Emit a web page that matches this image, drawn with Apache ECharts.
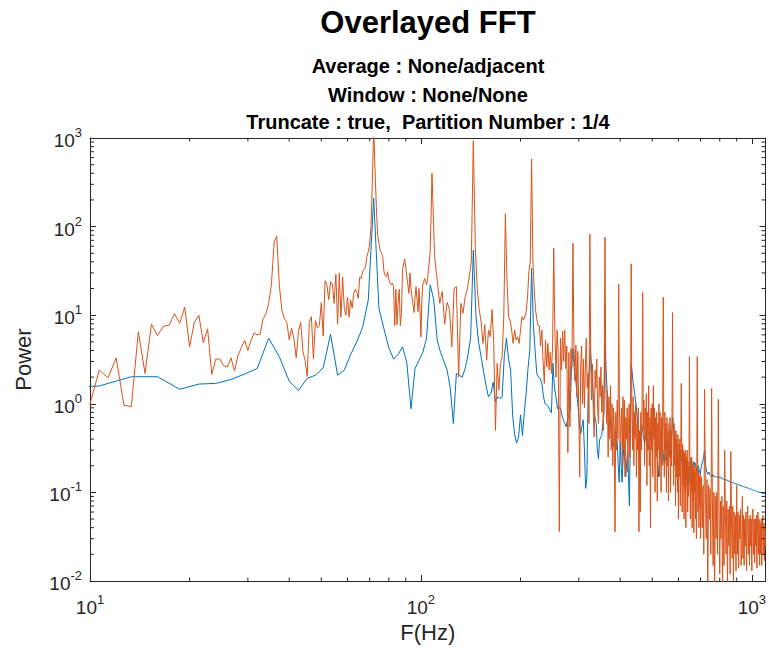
<!DOCTYPE html>
<html><head><meta charset="utf-8">
<script src="https://cdn.jsdelivr.net/npm/echarts@6/dist/echarts.min.js"></script>
<style>html,body{margin:0;padding:0;background:#fff}#c{width:769px;height:656px}</style>
</head><body><div id="c"></div>
<script>
const titleText = 'Overlayed FFT';
const subtitleLines = ['Average : None/adjacent', 'Window : None/None', 'Truncate : true,  Partition Number : 1/4'];
const xAxisName = 'F(Hz)';
const yAxisName = 'Power';
const xMin = 10, xMax = 1100, yMin = 0.01, yMax = 1000;

// Series 1 (blue): bins of 8/3 Hz
const blueLowStartHz = 8, blueLowStepHz = 8 / 3;
const blueLow = [
1.5,1.59,2.02,2.02,1.46,1.67,1.70,1.88,2.17,2.5,
5.5,3.4,1.8,1.42,1.94,2.1,2.55,6.1,2.1,2.4,
3.6,5.0,7.3,14.8,209,12,7.0,4.3,3.2,3.6,
4.4,2.9,0.88,2.5,3.1,3.8,5.5,22,15,5.2,
3.8,3.0,2.4,1.5,0.6,2.2,2.1,2.0,2.5,3.5,
5.5,54,10,5,3.4,2.3,1.6,1.2,1.3,1.75,
1.06,1.2,1.15,1.2,3.5,5.5,3.2,2.4,0.75,0.45,
0.36,0.42,0.75,0.44,0.8,1.31,2.5,4.0,34,7.9,
4.0,2.2,2.0,1.94,1.7,1.2,1.0,0.97,0.93,0.85,
0.79,2.86,1.5,1.2,0.88,0.9,0.9,0.75,0.66,0.6,
0.55,0.66,0.75,0.85,2.86,4.2,2.4,2.0,1.31,0.9,
0.6,0.46,0.55,0.66,0.3,0.111,0.145,1.2,2.4,4.2,
2.4,1.5,0.93,0.7,0.6,0.3,0.24,0.39,0.42,0.44,
0.6,0.79,4.8,2.5,1.43,0.85,0.75,0.66,0.5,0.37,
0.33,0.4,0.5,0.45,0.37,0.2,0.13,0.36];
// Series 1 (blue), read at every second bin above 400 Hz
const blueHighStartHz = 1216 / 3, blueHighStepHz = 16 / 3;
const blueHigh = [
0.13,0.36,0.15,0.3,0.07,2.86,1.8,1.3,0.9,0.5,
0.33,0.6,0.45,0.36,0.46,0.3,0.35,0.5,0.9,0.7,
0.4,0.3,0.15,0.25,0.35,0.3,0.2,0.25,0.4,0.3,
0.25,0.35,0.7,0.5,0.35,0.3,0.2,0.25,0.3,0.22,
0.3,0.25,0.2,0.25,0.15,0.12,0.2,0.25,0.2,0.18,
0.22,0.2,0.17,0.2,0.18,0.16,0.2,0.22,0.25,0.3,
0.2,0.17,0.16,0.17,0.16,0.155,0.15,0.16,0.15,0.15,
0.152,0.148,0.15,0.145,0.15,0.148,0.142,0.145,0.14,0.142,
0.138,0.14,0.135,0.137,0.132,0.134,0.13,0.131,0.128,0.129,
0.126,0.127,0.124,0.125,0.122,0.123,0.12,0.121,0.118,0.119,
0.116,0.117,0.115,0.116,0.113,0.114,0.112,0.112,0.11,0.11,
0.108,0.109,0.107,0.107,0.105,0.106,0.104,0.104,0.102,0.103,
0.101,0.101,0.1,0.1,0.099,0.099,0.098,0.098,0.097,0.097,
0.096];

// Series 2 (orange): 2/3 Hz bins up to 108 Hz
const orangeLowStartHz = 10, orangeLowStepHz = 2 / 3;
const orangeLow = [
1.0,2.4,1.97,3.3,0.96,0.93,6.5,2.2,7.9,5.9,7.5,7.7,10.4,8.1,12.3,4.4,8.3,10,4.9,7.0,
2.15,3.2,3.2,2.7,2.6,3.3,2.35,3.5,4.3,5.2,4.0,5.2,6.3,6.0,6.1,9.1,10.3,13.6,22,66,
78,22,11.4,9.2,8.3,5.3,7.1,5.4,3.3,6.6,8.3,3.9,3.1,2.04,8.3,9.6,3.2,8.7,7.2,7.6,
13.8,5.8,24.5,22,15,23.9,22.5,13.6,29,7.9,30,9.5,27,12,10,16,9.5,14.9,12,17.7,
19.6,18,15.5,27,26,31,33,35,46,52,62,100,336,1300,436,168,80,65,54,50,
46,31,28,27,31,25,23,22,23,21,7.6,19.6,7.8,14,19.6,7.6,10.5,33,38,43,
35,27,22,17.7,30,20,16,13,10.7,16,21,15,11,20,12,5.7,15,22.5,24,26,
24,22,25,32,40,54,130,400];
// Series 2 (orange), read every 2 Hz from 110 to 700 Hz
const orangeMidStartHz = 110, orangeMidStepHz = 2;
const orangeMid = [
45,25,13.6,18.5,7.9,14,11.6,4.4,20,21,
2.0,13.6,10.5,16,19.5,27,40,930,60,19.5,
11.6,8.5,4.8,7.8,3.1,6.8,5.7,11.6,4.8,0.5,
2.86,1.43,2.86,3.4,9.6,140,25,9.6,8.8,6.8,
4.8,6.8,5.25,5.7,4.8,6.8,9.6,8.8,9.6,11,
16,31,40,580,40,19.5,11.6,9,7.6,7.6,
4.5,6.8,3.0,1.7,5.2,2.6,4.8,2.4,3.8,2.2,
4.5,57,6.5,2.0,6.8,3.5,0.036,5.5,2.4,6.6,
3.0,6.8,2.5,4.5,0.28,3.8,0.55,4.2,2.6,65,
5.0,1.8,4.6,1.2,3.9,0.8,0.15,2.8,4.5,1.0,
3.2,0.9,2.6,5.5,1.5,2.2,0.6,82,3.0,1.1,
2.8,0.7,0.42,2.4,1.5,3.2,0.9,0.6,2.0,1.2,
2.6,0.8,1.6,0.5,1.9,76,1.9,0.6,1.4,0.25,
1.2,0.4,1.6,0.3,1.0,0.2,0.9,0.5,0.036,0.8,
0.3,1.1,0.4,22.5,1.0,0.35,
0.6,0.9,0.2,1.2,0.3,1.1,0.15,0.7,0.4,0.9,
0.17,0.6,1.0,0.25,0.8,38,0.9,0.3,1.2,0.2,
0.8,0.4,1.0,0.15,0.6,0.3,0.9,0.036,0.5,0.06,
0.8,0.3,1.0,18,0.5,1.1,0.2,0.9,0.4,1.3,
0.12,0.8,0.3,1.6,0.2,0.7,0.04,0.9,0.3,1.0,
0.15,1.6,0.4,0.9,0.1,0.7,0.25,0.8,0.08,0.6,
0.3,1.0,0.15,0.8,0.35,0.1,0.7,0.2,0.9,16,
0.5,0.15,0.8,0.3,0.6,0.1,0.7,0.2,0.5,0.08,
0.6,0.25,0.7,0.1,0.5,0.2,0.8,10.7,0.5,0.12,
0.6,0.2,0.45,0.07,0.5,0.15,0.4,0.1,0.45,0.05,
0.35,0.15,0.4,0.07,0.3,1.7,0.25,0.06,0.35,0.12,
0.3,0.05,0.28,0.1,0.3,0.04,0.25,0.12,0.3,0.06,
0.22,0.09,0.25,3.4,0.2,0.05,0.22,0.1,0.25,0.04,
0.2,0.08,0.22,0.035,0.18,0.1,0.2,0.05,0.17,0.03,
0.15,3.4,0.15,0.06,0.18,0.04,0.15,0.07,0.16,0.03];
// Series 2 (orange), read every 4 Hz from 704 to 1100 Hz
const orangeHighStartHz = 704, orangeHighStepHz = 4;
const orangeHigh = [
0.15,0.04,0.12,0.02,1.45,0.1,0.03,0.14,0.009,0.12,
0.05,0.11,0.02,1.5,0.08,0.015,0.1,0.007,0.09,0.03,
0.1,0.02,1.12,0.07,0.012,0.08,0.03,0.09,0.007,0.07,
0.015,0.3,0.06,0.02,0.08,0.009,0.065,0.025,0.07,0.012,
0.29,0.05,0.018,0.07,0.008,0.06,0.02,0.055,0.013,0.12,
0.02,0.06,0.014,0.055,0.03,0.065,0.015,0.02,0.09,0.018,
0.055,0.015,0.05,0.025,0.06,0.013,0.05,0.07,0.02,0.05,
0.015,0.055,0.025,0.05,0.013,0.06,0.065,0.02,0.05,0.016,
0.05,0.025,0.055,0.014,0.045,0.06,0.02,0.05,0.015,0.045,
0.02,0.05,0.015,0.045,0.055,0.02,0.045,0.017,0.04,0.025];

const blueColor = '#0072BD', orangeColor = '#D95319', axisColor = '#262626';
const FONT = "'Liberation Sans', Arial, Helvetica, sans-serif";

function pairs(start, step, vals) { return vals.map((v, i) => [start + i * step, v]); }
const blueData = pairs(blueLowStartHz, blueLowStepHz, blueLow).concat(pairs(blueHighStartHz, blueHighStepHz, blueHigh));
const orangeData = pairs(orangeLowStartHz, orangeLowStepHz, orangeLow)
  .concat(pairs(orangeMidStartHz, orangeMidStepHz, orangeMid))
  .concat(pairs(orangeHighStartHz, orangeHighStepHz, orangeHigh));

// minor tick positions (2..9 x each decade)
const minorX = [], minorY = [];
for (let d = 10; d < xMax; d *= 10) for (let m = 2; m <= 9; m++) if (d * m < xMax) minorX.push(d * m);
for (let e = -2; e < 3; e++) for (let m = 2; m <= 9; m++) minorY.push(m * Math.pow(10, e));

function powLabel(v) {
  const l = Math.log10(v), e = Math.round(l);
  if (Math.abs(l - e) > 1e-6) return '';
  return '{b|10}{s|' + e + '}';
}
const labelRich = {
  b: { fontSize: 19, fontFamily: FONT, color: axisColor, verticalAlign: 'bottom', lineHeight: 24 },
  s: { fontSize: 13, fontFamily: FONT, color: axisColor, verticalAlign: 'top', lineHeight: 24 }
};
const lineStyleAxis = { lineStyle: { color: axisColor, width: 1 } };

const chart = echarts.init(document.getElementById('c'), null, { renderer: 'svg' });
chart.setOption({
  animation: false,
  backgroundColor: '#fff',
  graphic: [
    { type: 'text', x: 428, y: 22, style: { text: titleText, align: 'center', verticalAlign: 'middle', fontSize: 31, fontWeight: 'bold', fontFamily: FONT, fill: '#000' } },
    { type: 'text', x: 428, y: 66, style: { text: subtitleLines[0], align: 'center', verticalAlign: 'middle', fontSize: 20, fontWeight: 'bold', fontFamily: FONT, fill: '#000' } },
    { type: 'text', x: 428, y: 95, style: { text: subtitleLines[1], align: 'center', verticalAlign: 'middle', fontSize: 20, fontWeight: 'bold', fontFamily: FONT, fill: '#000' } },
    { type: 'text', x: 428, y: 122, style: { text: subtitleLines[2], align: 'center', verticalAlign: 'middle', fontSize: 20, fontWeight: 'bold', fontFamily: FONT, fill: '#000' } }
  ],
  grid: { left: 90, right: 2, top: 138, bottom: 75, containLabel: false },
  xAxis: [
    { type: 'log', logBase: 10, min: xMin, max: xMax, position: 'bottom',
      name: xAxisName, nameLocation: 'middle', nameGap: 40,
      nameTextStyle: { fontSize: 22, fontFamily: FONT, color: axisColor },
      axisLine: lineStyleAxis, splitLine: { show: false },
      axisTick: { inside: true, length: 6, lineStyle: { color: axisColor } },
      axisLabel: { formatter: powLabel, rich: labelRich, margin: 12, showMaxLabel: false } },
    { type: 'log', logBase: 10, min: xMin, max: xMax, position: 'top',
      axisLine: lineStyleAxis, splitLine: { show: false },
      axisTick: { inside: true, length: 6, lineStyle: { color: axisColor } },
      axisLabel: { show: false } }
  ],
  yAxis: [
    { type: 'log', logBase: 10, min: yMin, max: yMax, position: 'left',
      name: yAxisName, nameLocation: 'middle', nameGap: 56, nameRotate: 90,
      nameTextStyle: { fontSize: 22, fontFamily: FONT, color: axisColor },
      axisLine: lineStyleAxis, splitLine: { show: false },
      axisTick: { inside: true, length: 6, lineStyle: { color: axisColor } },
      axisLabel: { formatter: powLabel, rich: labelRich, margin: 8 } },
    { type: 'log', logBase: 10, min: yMin, max: yMax, position: 'right',
      axisLine: lineStyleAxis, splitLine: { show: false },
      axisTick: { inside: true, length: 6, lineStyle: { color: axisColor } },
      axisLabel: { show: false } }
  ],
  series: [
    { name: 'blue', type: 'line', data: blueData, showSymbol: false, symbol: 'none', clip: true, silent: true,
      lineStyle: { color: blueColor, width: 1 }, itemStyle: { color: blueColor }, z: 2 },
    { name: 'orange', type: 'line', data: orangeData, showSymbol: false, symbol: 'none', clip: true, silent: true,
      lineStyle: { color: orangeColor, width: 1 }, itemStyle: { color: orangeColor }, z: 3 },
    { type: 'custom', silent: true, clip: false, z: 4, data: minorX.map(v => [v, yMin]),
      renderItem: (p, api) => {
        const a = api.coord([api.value(0), yMin]), b = api.coord([api.value(0), yMax]);
        return { type: 'group', children: [
          { type: 'line', shape: { x1: a[0], y1: a[1], x2: a[0], y2: a[1] - 3.5 }, style: { stroke: axisColor, lineWidth: 1 } },
          { type: 'line', shape: { x1: b[0], y1: b[1], x2: b[0], y2: b[1] + 3.5 }, style: { stroke: axisColor, lineWidth: 1 } } ] };
      } },
    { type: 'custom', silent: true, clip: false, z: 4, data: minorY.map(v => [xMin, v]),
      renderItem: (p, api) => {
        const a = api.coord([xMin, api.value(1)]), b = api.coord([xMax, api.value(1)]);
        return { type: 'group', children: [
          { type: 'line', shape: { x1: a[0], y1: a[1], x2: a[0] + 4, y2: a[1] }, style: { stroke: axisColor, lineWidth: 1 } },
          { type: 'line', shape: { x1: b[0], y1: b[1], x2: b[0] - 4, y2: b[1] }, style: { stroke: axisColor, lineWidth: 1 } } ] };
      } }
  ]
});
</script></body></html>
